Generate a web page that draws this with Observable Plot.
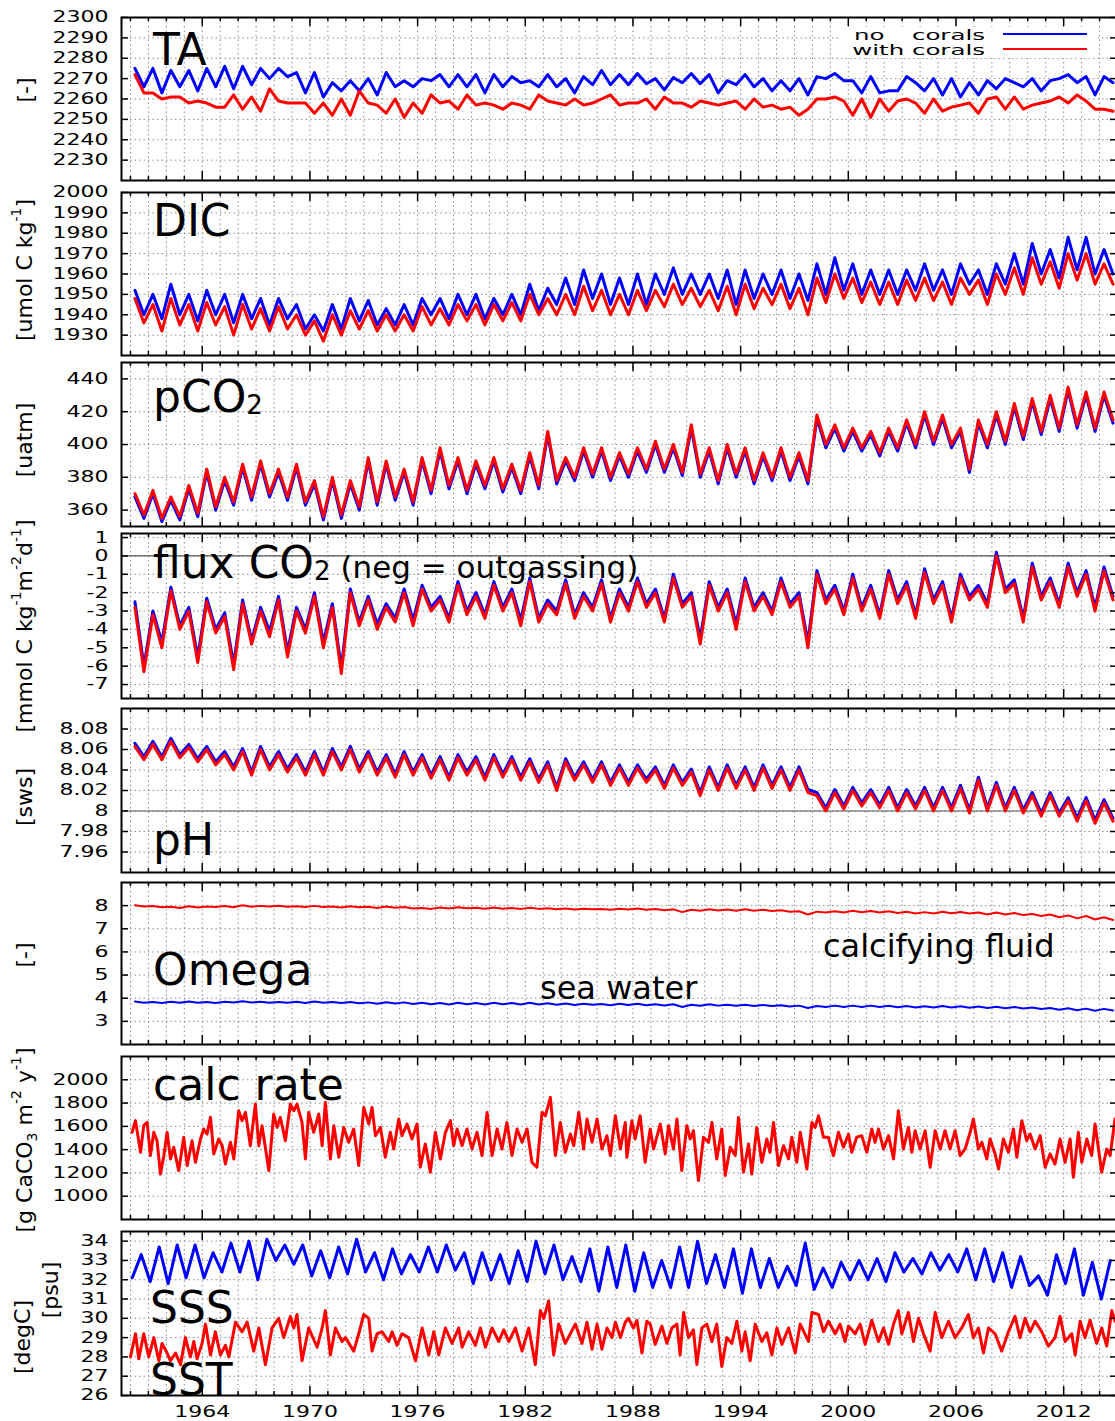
<!DOCTYPE html>
<html><head><meta charset="utf-8">
<script src="https://cdn.jsdelivr.net/npm/d3@7"></script>
<script src="https://cdn.jsdelivr.net/npm/@observablehq/plot@0.6"></script>
<style>
html,body{margin:0;padding:0;background:#fff;overflow:hidden;}
#chart{position:relative;width:1115px;height:1421px;overflow:hidden;background:#fff;font-family:"DejaVu Sans",sans-serif;}
</style></head><body><div id="chart"></div>
<script>
// ---------- axis ticks / labels ----------
const gridYears = d3.range(1960, 2015);
const labelYears = [1964, 1970, 1976, 1982, 1988, 1994, 2000, 2006, 2012];
const taTicks = [2230, 2240, 2250, 2260, 2270, 2280, 2290, 2300];
const dicTicks = [1930, 1940, 1950, 1960, 1970, 1980, 1990, 2000];
const pco2Ticks = [360, 380, 400, 420, 440];
const fluxTicks = [1, 0, -1, -2, -3, -4, -5, -6, -7];
const phTicks = [7.96, 7.98, 8, 8.02, 8.04, 8.06, 8.08];
const omegaTicks = [3, 4, 5, 6, 7, 8];
const calcTicks = [1000, 1200, 1400, 1600, 1800, 2000];
const salTicks = [26, 27, 28, 29, 30, 31, 32, 33, 34];

// ---------- series values (half-yearly, from 1960.25) ----------
const taBlue = [2275,2266,2275,2263,2274,2266,2274,2264,2275,2266,2276,2265,2276,2267,2275,2270,2275,2271,2273,2263,
 2273,2261,2268,2264,2269,2264,2270,2262,2273,2266,2269,2266,2270,2269,2272,2266,2272,2266,2272,2263,
 2272,2266,2271,2268,2269,2266,2272,2266,2270,2263,2271,2267,2274,2267,2272,2267,2272.5,2267.5,2270,2264.5,
 2270.5,2268,2272.5,2267.5,2272,2263,2269,2267,2272,2266,2270,2264,2269,2264,2270,2262,2271,2270,2272.5,2269,
 2269,2263,2271,2263,2264,2264,2271,2268,2264,2270,2262,2270,2261,2268,2262,2269,2265,2270,2268,2266,
 2270,2264,2269,2270,2272,2268,2271,2262,2271,2268];
const taRed = [2272,2263,2263,2260,2261,2261,2258,2259,2258,2256,2256,2262,2255,2261,2254,2265,2259,2258,2258,2258,
 2253,2258,2252,2260,2252,2264,2258,2257,2253,2260,2251,2258,2253,2262,2258,2259,2255,2262,2257,2258,
 2257,2255,2258,2257,2255,2262,2259,2258,2257,2260,2257,2258,2260,2262,2257,2258,2258,2260,2255,2261,
 2258,2258,2256,2259,2258,2257,2258,2259,2255,2260,2256,2257,2255,2256,2252,2255,2260,2260,2261,2259,
 2252,2260,2251,2260,2254,2259,2260,2258,2253,2260,2254,2256,2257,2258,2253,2260,2261,2255,2261,2255,
 2257,2258,2259,2261,2258,2262,2259,2255,2255,2254];
const dicBlue = [1952,1940,1950,1938,1955,1940,1950,1937,1952,1940,1950,1936,1950,1938,1948,1935,1948,1938,1945,1933,
 1940,1932,1945,1933,1948,1937,1947,1935,1943,1935,1945,1935,1948,1940,1948,1938,1950,1940,1950,1938,
 1948,1940,1950,1940,1955,1942,1953,1945,1958,1945,1962,1948,1960,1945,1958,1945,1960,1945,1960,1950,
 1963,1950,1960,1950,1960,1948,1962,1945,1962,1948,1960,1950,1962,1948,1960,1947,1965,1950,1968,1952,
 1965,1950,1962,1950,1962,1950,1962,1952,1965,1952,1962,1950,1965,1955,1962,1950,1965,1955,1970,1955,
 1975,1960,1972,1958,1978,1962,1978,1960,1972,1960];
const dicRed = [1948,1936,1945,1932,1948,1935,1945,1932,1946,1935,1944,1930,1945,1933,1943,1932,1944,1933,1940,1930,
 1937,1927,1940,1930,1942,1933,1942,1932,1940,1932,1940,1932,1944,1935,1943,1935,1945,1937,1945,1935,
 1945,1937,1946,1937,1950,1940,1948,1940,1950,1940,1954,1942,1952,1940,1950,1940,1952,1942,1952,1944,
 1955,1945,1953,1944,1952,1942,1954,1940,1955,1943,1953,1945,1955,1943,1953,1940,1958,1946,1960,1948,
 1958,1946,1956,1945,1956,1945,1957,1947,1958,1947,1956,1945,1958,1950,1957,1945,1960,1950,1963,1950,
 1968,1955,1966,1953,1970,1957,1970,1955,1965,1955];
const pco2Blue = [368,355,370,353,366,354,373,356,383,360,378,363,386,366,388,368,383,366,386,363,
 376,354,378,355,376,360,390,363,388,366,383,363,390,370,396,373,390,370,388,373,
 390,371,386,370,393,373,406,376,390,378,396,380,396,378,393,380,396,383,400,383,
 398,381,410,380,396,376,398,380,396,376,393,378,396,378,393,376,416,398,410,396,
 408,396,406,393,408,396,413,398,418,400,416,398,408,383,413,398,418,400,423,403,
 426,406,428,408,433,410,430,408,430,413];
const pco2Red = [370,357,372,355,368,356,375,358,385,362,380,365,388,368,390,370,385,368,388,365,
 378,356,380,357,378,362,392,365,390,368,385,365,392,372,398,375,392,372,390,375,
 392,373,388,372,395,375,408,378,392,380,398,382,398,380,395,382,398,385,402,385,
 400,383,412,382,398,378,400,382,398,378,395,380,398,380,395,378,418,400,412,398,
 410,398,408,395,410,398,415,400,420,402,418,400,410,385,415,400,420,402,425,405,
 428,408,430,410,435,412,432,410,432,415];
const fluxBlue = [-2.5,-6.0,-3.0,-4.7,-1.7,-3.8,-2.8,-5.5,-2.3,-4.0,-3.1,-5.9,-2.4,-4.6,-2.8,-4.1,-2.2,-5.2,-2.8,-4.0,
 -2.0,-4.7,-2.6,-6.1,-1.8,-3.6,-2.2,-3.7,-2.6,-3.4,-1.8,-3.5,-1.6,-2.8,-2.2,-3.4,-1.4,-3.0,-2.0,-3.2,
 -1.4,-2.8,-1.8,-3.5,-1.2,-3.4,-2.4,-3.0,-1.3,-3.2,-2.0,-2.8,-1.3,-3.4,-1.8,-2.8,-1.2,-2.6,-1.8,-3.4,
 -1.0,-2.6,-2.0,-4.5,-1.4,-2.8,-1.8,-3.7,-1.2,-2.8,-2.0,-3.0,-1.2,-2.6,-2.0,-4.7,-0.8,-2.4,-1.6,-3.0,
 -1.0,-2.8,-1.6,-3.2,-0.8,-2.4,-1.4,-3.2,-0.7,-2.4,-1.4,-3.4,-1.0,-2.2,-1.6,-2.6,0.2,-1.8,-1.3,-3.4,
 -0.4,-2.2,-1.2,-2.6,-0.4,-2.0,-0.8,-2.8,-0.6,-2.2];
const fluxRed = [-2.8,-6.3,-3.2,-5.0,-1.9,-4.0,-3.0,-5.8,-2.5,-4.2,-3.3,-6.2,-2.6,-4.8,-3.0,-4.4,-2.4,-5.5,-3.0,-4.2,
 -2.2,-5.0,-2.8,-6.4,-2.0,-3.8,-2.4,-4.0,-2.8,-3.6,-2.0,-3.8,-1.8,-3.0,-2.4,-3.6,-1.6,-3.2,-2.2,-3.4,
 -1.6,-3.0,-2.0,-3.8,-1.4,-3.6,-2.6,-3.2,-1.5,-3.4,-2.2,-3.0,-1.5,-3.6,-2.0,-3.0,-1.4,-2.8,-2.0,-3.6,
 -1.2,-2.8,-2.2,-4.8,-1.6,-3.0,-2.0,-4.0,-1.4,-3.0,-2.2,-3.2,-1.4,-2.8,-2.2,-5.0,-1.0,-2.6,-1.8,-3.2,
 -1.2,-3.0,-1.8,-3.4,-1.0,-2.6,-1.6,-3.4,-0.9,-2.6,-1.6,-3.6,-1.2,-2.4,-1.8,-2.8,0.0,-2.0,-1.5,-3.6,
 -0.6,-2.4,-1.4,-2.8,-0.6,-2.2,-1.0,-3.0,-0.8,-2.4];
const phBlue = [8.066,8.053,8.068,8.053,8.071,8.055,8.065,8.051,8.063,8.048,8.058,8.043,8.061,8.038,8.063,8.043,8.058,8.041,8.055,8.038,
 8.058,8.038,8.061,8.043,8.063,8.041,8.058,8.038,8.055,8.036,8.058,8.038,8.055,8.035,8.053,8.033,8.055,8.038,8.053,8.033,
 8.055,8.036,8.053,8.033,8.051,8.031,8.048,8.023,8.051,8.033,8.048,8.031,8.048,8.028,8.045,8.028,8.045,8.031,8.043,8.025,
 8.045,8.028,8.041,8.018,8.043,8.023,8.045,8.025,8.043,8.023,8.045,8.025,8.043,8.023,8.043,8.021,8.018,8.003,8.021,8.005,
 8.023,8.008,8.021,8.006,8.023,8.003,8.021,8.005,8.023,8.003,8.023,8.003,8.025,8.001,8.033,8.003,8.028,8.003,8.023,8.001,
 8.018,7.998,8.018,7.998,8.013,7.993,8.013,7.991,8.011,7.993];
const phRed = [8.063,8.05,8.065,8.05,8.068,8.052,8.062,8.048,8.06,8.045,8.055,8.04,8.058,8.035,8.06,8.04,8.055,8.038,8.052,8.035,
 8.055,8.035,8.058,8.04,8.06,8.038,8.055,8.035,8.052,8.033,8.055,8.035,8.052,8.032,8.05,8.03,8.052,8.035,8.05,8.03,
 8.052,8.033,8.05,8.03,8.048,8.028,8.045,8.02,8.048,8.03,8.045,8.028,8.045,8.025,8.042,8.025,8.042,8.028,8.04,8.022,
 8.042,8.025,8.038,8.015,8.04,8.02,8.042,8.022,8.04,8.02,8.042,8.022,8.04,8.02,8.04,8.018,8.015,8,8.018,8.002,
 8.02,8.005,8.018,8.003,8.02,8,8.018,8.002,8.02,8,8.02,8,8.022,7.998,8.03,8,8.025,8,8.02,7.998,
 8.015,7.995,8.015,7.995,8.01,7.99,8.01,7.988,8.008,7.99];
const omegaFluid = [8.02,7.96,7.98,7.93,7.95,7.90,7.97,7.92,7.96,7.94,7.98,7.93,8.02,7.95,7.99,7.96,8.00,7.95,7.97,7.94,
 7.99,7.94,7.96,7.92,7.97,7.93,7.95,7.90,7.96,7.91,7.94,7.88,7.90,7.86,7.92,7.88,7.93,7.89,7.91,7.87,
 7.92,7.87,7.90,7.86,7.91,7.86,7.89,7.84,7.88,7.83,7.87,7.84,7.86,7.82,7.87,7.83,7.88,7.82,7.85,7.80,
 7.84,7.72,7.82,7.78,7.84,7.79,7.83,7.78,7.84,7.78,7.82,7.77,7.80,7.74,7.76,7.62,7.74,7.70,7.76,7.70,
 7.78,7.71,7.77,7.70,7.76,7.68,7.74,7.66,7.72,7.66,7.74,7.67,7.73,7.66,7.70,7.62,7.70,7.62,7.68,7.60,
 7.64,7.55,7.62,7.50,7.58,7.45,7.55,7.40,7.50,7.38];
const omegaSea = [3.86,3.80,3.84,3.79,3.85,3.80,3.86,3.80,3.84,3.79,3.85,3.81,3.87,3.81,3.85,3.80,3.84,3.80,3.85,3.79,
 3.86,3.80,3.84,3.79,3.84,3.78,3.82,3.76,3.83,3.77,3.82,3.75,3.80,3.74,3.79,3.73,3.80,3.74,3.79,3.73,
 3.80,3.74,3.79,3.73,3.80,3.73,3.78,3.72,3.77,3.71,3.76,3.72,3.75,3.70,3.76,3.71,3.76,3.70,3.74,3.69,
 3.74,3.62,3.72,3.67,3.74,3.68,3.72,3.67,3.72,3.66,3.71,3.66,3.70,3.64,3.68,3.58,3.66,3.62,3.68,3.62,
 3.68,3.62,3.68,3.62,3.67,3.61,3.66,3.60,3.65,3.60,3.66,3.60,3.65,3.59,3.64,3.58,3.63,3.57,3.62,3.56,
 3.60,3.53,3.58,3.50,3.57,3.48,3.55,3.46,3.54,3.47];
// SSS half-yearly from 1960.1
const sss = [32.1,33.3,31.9,33.7,31.8,33.8,32.1,33.8,32.1,33.4,32.4,33.9,32.4,34.0,32.0,34.1,33.0,33.8,32.8,33.8,
 32.2,33.5,32.1,33.7,32.3,34.1,32.4,33.4,32.0,33.6,32.3,33.3,32.4,33.7,32.4,33.8,32.5,33.4,31.8,33.4,
 32.0,33.3,31.8,33.5,31.9,34.0,32.3,33.8,32.0,33.2,31.9,33.6,31.4,33.7,31.6,33.8,31.4,33.4,31.6,33.0,
 31.6,33.7,31.6,34.0,31.8,33.3,31.6,33.6,31.3,33.6,31.6,33.1,31.6,32.7,31.7,33.9,31.5,32.6,31.6,32.9,
 32.0,33.0,32.0,33.1,31.9,33.4,32.4,33.1,32.3,33.4,32.5,33.3,32.4,33.6,32.0,33.6,31.9,33.4,31.6,33.2,
 31.7,32.2,31.2,33.3,31.8,33.6,31.2,32.9,31.0,33.0];
// SST and calc rate: [decimal year, value]
const sst = [[1960.0,28.0],[1960.28,29.2],[1960.46,27.9],[1960.74,29.2],[1961.02,28.0],[1961.3,29.0],[1961.58,27.8],[1961.76,28.7],[1962.04,28.2],[1962.23,27.8],
 [1962.51,28.2],[1962.79,27.6],[1963.06,29.0],[1963.34,28.0],[1963.53,28.8],[1963.71,27.9],[1963.99,28.7],[1964.18,29.7],[1964.46,28.1],[1964.73,29.3],
 [1965.01,28.1],[1965.29,28.6],[1965.48,28.0],[1965.85,29.8],[1966.22,29.3],[1966.5,29.8],[1966.87,28.3],[1967.15,29.5],[1967.52,27.6],[1967.89,29.5],
 [1968.26,30.0],[1968.54,29.0],[1968.91,30.1],[1969.1,29.5],[1969.28,30.2],[1969.56,27.8],[1969.93,29.5],[1970.4,28.5],[1970.68,29.5],[1970.86,30.4],
 [1971.14,28.1],[1971.42,29.5],[1971.79,28.8],[1971.98,29.0],[1972.44,28.3],[1972.72,29.2],[1973.0,30.2],[1973.28,30.0],[1973.46,28.3],[1973.74,29.2],
 [1974.02,29.3],[1974.39,28.8],[1974.58,29.3],[1974.85,28.6],[1975.13,29.2],[1975.5,29.0],[1975.88,27.8],[1976.25,29.5],[1976.62,28.1],[1976.9,29.3],
 [1977.18,28.1],[1977.55,29.5],[1977.92,28.7],[1978.29,29.5],[1978.48,28.5],[1978.85,29.3],[1979.22,28.6],[1979.5,29.5],[1979.78,28.5],[1980.15,29.5],
 [1980.52,28.8],[1980.8,29.4],[1981.08,28.8],[1981.45,29.5],[1981.82,28.3],[1982.19,29.5],[1982.56,27.6],[1982.84,30.4],[1983.03,30.0],[1983.3,30.9],
 [1983.58,28.1],[1983.86,29.7],[1984.23,28.7],[1984.51,29.2],[1984.79,29.7],[1985.16,28.7],[1985.44,29.8],[1985.72,28.4],[1986.0,29.7],[1986.27,28.4],
 [1986.55,29.5],[1986.83,29.0],[1987.02,29.8],[1987.3,29.0],[1987.57,29.8],[1987.75,30.0],[1988.03,29.5],[1988.22,29.9],[1988.5,28.2],[1988.77,29.85],
 [1988.96,29.7],[1989.24,28.65],[1989.61,29.6],[1989.89,28.7],[1990.17,29.5],[1990.45,29.7],[1990.63,28.1],[1990.82,30.3],[1991.1,29.0],[1991.37,29.4],
 [1991.56,27.6],[1991.84,29.5],[1992.12,29.7],[1992.4,28.8],[1992.67,29.7],[1992.95,27.5],[1993.23,29.0],[1993.51,28.7],[1993.79,29.85],[1994.07,28.3],
 [1994.25,29.3],[1994.53,27.8],[1994.81,29.7],[1995.18,28.8],[1995.46,29.25],[1995.74,28.1],[1996.02,29.5],[1996.3,28.65],[1996.67,29.5],[1997.04,28.2],
 [1997.32,29.7],[1997.78,28.8],[1997.97,30.3],[1998.34,30.2],[1998.62,29.3],[1998.89,29.85],[1999.27,29.2],[1999.54,29.7],[1999.82,28.8],[2000.01,29.6],
 [2000.38,29.2],[2000.66,29.7],[2000.94,28.65],[2001.31,29.9],[2001.68,28.8],[2001.96,29.5],[2002.24,28.65],[2002.52,29.7],[2002.79,30.4],[2002.98,29.2],
 [2003.35,30.3],[2003.63,28.8],[2003.91,30.0],[2004.19,29.2],[2004.56,28.3],[2004.84,30.3],[2005.21,29.0],[2005.58,29.85],[2005.95,29.0],[2006.32,29.5],
 [2006.69,30.2],[2006.97,29.0],[2007.25,29.5],[2007.53,28.2],[2007.81,29.5],[2008.18,29.2],[2008.55,28.3],[2008.92,29.3],[2009.29,30.1],[2009.57,29.0],
 [2009.85,30.0],[2010.13,29.3],[2010.41,29.85],[2010.78,29.3],[2011.15,28.56],[2011.52,29.0],[2011.8,30.1],[2012.08,28.8],[2012.45,29.2],[2012.64,28.1],
 [2012.92,29.85],[2013.19,29.0],[2013.47,29.9],[2013.84,28.7],[2014.12,29.5],[2014.4,28.56],[2014.68,30.4],[2014.86,29.85]];
const calc = [[1960.09,1549],[1960.28,1649],[1960.56,1377],[1960.74,1606],[1960.93,1634],[1961.11,1349],[1961.3,1549],[1961.48,1477],[1961.67,1191],[1961.86,1349],
 [1962.04,1549],[1962.23,1320],[1962.41,1420],[1962.69,1220],[1962.97,1506],[1963.16,1263],[1963.43,1477],[1963.62,1291],[1963.9,1491],[1964.08,1577],
 [1964.27,1534],[1964.46,1677],[1964.64,1363],[1964.92,1491],[1965.11,1434],[1965.29,1277],[1965.57,1463],[1965.76,1320],[1966.03,1734],[1966.22,1649],
 [1966.41,1720],[1966.68,1434],[1966.96,1791],[1967.15,1434],[1967.33,1606],[1967.71,1220],[1967.98,1706],[1968.17,1591],[1968.35,1677],[1968.63,1477],
 [1968.91,1791],[1969.1,1734],[1969.28,1791],[1969.56,1634],[1969.75,1320],[1969.93,1720],[1970.21,1549],[1970.49,1706],[1970.68,1434],[1970.86,1806],
 [1971.14,1320],[1971.33,1606],[1971.61,1334],[1971.88,1591],[1972.16,1463],[1972.44,1577],[1972.72,1263],[1973.0,1763],[1973.28,1620],[1973.46,1763],
 [1973.65,1520],[1973.93,1591],[1974.2,1334],[1974.48,1549],[1974.67,1406],[1974.95,1663],[1975.13,1520],[1975.41,1620],[1975.69,1491],[1975.97,1620],
 [1976.15,1249],[1976.43,1449],[1976.71,1206],[1976.99,1549],[1977.27,1320],[1977.55,1549],[1977.83,1649],[1978.01,1434],[1978.2,1577],[1978.48,1434],
 [1978.75,1577],[1979.03,1406],[1979.31,1549],[1979.59,1349],[1979.87,1720],[1980.15,1349],[1980.43,1577],[1980.7,1406],[1980.98,1634],[1981.26,1349],
 [1981.54,1577],[1981.82,1463],[1982.1,1577],[1982.37,1291],[1982.65,1249],[1982.93,1720],[1983.12,1691],[1983.4,1849],[1983.68,1349],[1983.95,1634],
 [1984.23,1377],[1984.51,1534],[1984.7,1434],[1984.98,1720],[1985.25,1406],[1985.44,1663],[1985.72,1463],[1986.0,1663],[1986.27,1406],[1986.55,1520],
 [1986.74,1349],[1987.02,1691],[1987.3,1406],[1987.57,1634],[1987.66,1334],[1987.94,1649],[1988.12,1491],[1988.4,1691],[1988.68,1291],[1988.96,1577],
 [1989.15,1406],[1989.52,1620],[1989.8,1363],[1989.98,1606],[1990.26,1406],[1990.45,1663],[1990.72,1220],[1991.0,1606],[1991.19,1491],[1991.37,1563],
 [1991.65,1134],[1991.93,1506],[1992.21,1463],[1992.4,1634],[1992.67,1320],[1992.95,1577],[1993.14,1177],[1993.42,1420],[1993.7,1349],[1993.88,1677],
 [1994.16,1206],[1994.44,1449],[1994.62,1191],[1994.9,1591],[1995.18,1291],[1995.46,1491],[1995.64,1377],[1995.83,1634],[1996.11,1263],[1996.39,1434],
 [1996.67,1320],[1996.85,1506],[1997.13,1291],[1997.32,1549],[1997.69,1234],[1997.97,1634],[1998.15,1591],[1998.34,1691],[1998.62,1506],[1998.89,1506],
 [1999.17,1349],[1999.45,1549],[1999.73,1420],[2000.01,1534],[2000.19,1377],[2000.47,1506],[2000.75,1520],[2001.03,1377],[2001.31,1577],[2001.49,1463],
 [2001.68,1577],[2001.96,1406],[2002.24,1520],[2002.52,1320],[2002.79,1734],[2003.07,1406],[2003.35,1591],[2003.54,1377],[2003.72,1563],[2004.0,1406],
 [2004.28,1563],[2004.56,1249],[2004.84,1563],[2005.12,1406],[2005.39,1563],[2005.67,1406],[2005.95,1563],[2006.23,1349],[2006.51,1406],[2006.79,1549],
 [2006.97,1663],[2007.25,1406],[2007.44,1463],[2007.72,1320],[2007.9,1491],[2008.18,1363],[2008.37,1234],[2008.64,1491],[2008.92,1377],[2009.2,1577],
 [2009.39,1334],[2009.67,1649],[2009.94,1477],[2010.13,1534],[2010.41,1406],[2010.69,1520],[2010.97,1249],[2011.24,1363],[2011.52,1277],[2011.8,1491],
 [2012.08,1291],[2012.36,1491],[2012.54,1163],[2012.82,1549],[2013.01,1291],[2013.29,1491],[2013.56,1349],[2013.75,1620],[2014.12,1206],[2014.4,1406],
 [2014.59,1349],[2014.86,1663]];

// ---------- helpers ----------
const BLUE = "#0000ff", RED = "#ff0000";
const X0 = 1959.5, X1 = 2015;
const FRAME_L = 121, FRAME_R = 1117;
const reg = (start, step, vals) => vals.map((v, i) => ({t: start + i * step, v}));
const pr = arr => arr.map(([t, v]) => ({t, v}));

const panels = [
  {top: 17, bottom: 180, domain: [2220, 2300], ticks: taTicks,
   lines: [[reg(1960.25, 0.5, taBlue), BLUE, 3], [reg(1960.25, 0.5, taRed), RED, 3]]},
  {top: 192, bottom: 355, domain: [1920, 2000], ticks: dicTicks,
   lines: [[reg(1960.25, 0.5, dicBlue), BLUE, 3], [reg(1960.25, 0.5, dicRed), RED, 3]]},
  {top: 362, bottom: 526, domain: [350, 450], ticks: pco2Ticks,
   lines: [[reg(1960.25, 0.5, pco2Blue), BLUE, 3], [reg(1960.25, 0.5, pco2Red), RED, 3]]},
  {top: 533, bottom: 698, domain: [-7.76, 1.22], ticks: fluxTicks, solid: [0],
   lines: [[reg(1960.25, 0.5, fluxBlue), BLUE, 3], [reg(1960.25, 0.5, fluxRed), RED, 3]]},
  {top: 708, bottom: 872, domain: [7.94, 8.10], ticks: phTicks, solid: [8],
   lines: [[reg(1960.25, 0.5, phBlue), BLUE, 3], [reg(1960.25, 0.5, phRed), RED, 3]]},
  {top: 882, bottom: 1044, domain: [2, 9], ticks: omegaTicks,
   lines: [[reg(1960.25, 0.5, omegaSea), BLUE, 2], [reg(1960.25, 0.5, omegaFluid), RED, 2]]},
  {top: 1056, bottom: 1219, domain: [800, 2200], ticks: calcTicks,
   lines: [[pr(calc), RED, 3]]},
  {top: 1231, bottom: 1395, domain: [26, 34.5], ticks: salTicks, xlabels: true,
   lines: [[reg(1960.1, 0.5, sss), BLUE, 3], [pr(sst), RED, 3]]}
];

const chart = document.getElementById("chart");
const pxPerYear = (FRAME_R - FRAME_L) / (X1 - X0);
const majorSet = new Set(labelYears);
const GRID = {stroke: "#8c8c8c", strokeWidth: 1, strokeDasharray: "1.5,3"};
const TICK = {stroke: "#000", strokeWidth: 1.5};

panels.forEach(p => {
  const mt = 12, mb = p.xlabels ? 28 : 6;
  const h = p.bottom - p.top;
  const [lo, hi] = p.domain;
  const uy = (hi - lo) / h;
  const ux = 1 / pxPerYear;
  const tl = d => majorSet.has(d) ? 9 : 4;
  const marks = [
    Plot.ruleX(gridYears, {x: d => d, ...GRID}),
    Plot.ruleY(p.ticks, {y: d => d, ...GRID})
  ];
  if (p.solid) marks.push(Plot.ruleY(p.solid, {y: d => d, stroke: "#555", strokeWidth: 1.2}));
  p.lines.forEach(([data, color, w]) => marks.push(
    Plot.line(data, {x: "t", y: "v", stroke: color, strokeWidth: w, strokeLinejoin: "round"})));
  marks.push(
    Plot.ruleY(p.ticks, {y: d => d, x1: () => X0, x2: () => X0 + 7 * ux, ...TICK}),
    Plot.ruleY(p.ticks, {y: d => d, x1: () => X1 - 7 * ux, x2: () => X1, ...TICK}),
    Plot.ruleX(gridYears, {x: d => d, y1: () => lo, y2: d => lo + tl(d) * uy, ...TICK}),
    Plot.ruleX(gridYears, {x: d => d, y1: () => hi, y2: d => hi - tl(d) * uy, ...TICK}),
    Plot.frame({stroke: "#000", strokeWidth: 2}),
    Plot.text(p.ticks, {x: () => X0, y: d => d, text: d => String(d), textAnchor: "end", dx: -13,
      fontSize: 15.5, fill: "#000"})
  );
  if (p.xlabels) marks.push(Plot.text(labelYears, {x: d => d, y: () => lo, text: d => String(d),
      dy: 16.5, fontSize: 15.5, fill: "#000"}));
  const svg = Plot.plot({
    width: FRAME_R + 1, height: h + mt + mb,
    marginLeft: FRAME_L, marginRight: 1, marginTop: mt, marginBottom: mb,
    x: {domain: [X0, X1], axis: null},
    y: {domain: p.domain, axis: null},
    style: {background: "transparent", overflow: "visible", maxWidth: "none", fontFamily: "DejaVu Sans"},
    marks
  });
  const wrap = document.createElement("div");
  wrap.style.cssText = `position:absolute;left:0;top:${p.top - mt}px;`;
  wrap.appendChild(svg);
  chart.appendChild(wrap);
  // widen the tick labels horizontally (the reference's digits are stretched)
  svg.querySelectorAll("text").forEach(el => {
    const a = el.closest("[text-anchor]");
    const anchor = a ? a.getAttribute("text-anchor") : "middle";
    const b = el.getBBox();
    const ax = anchor === "end" ? b.x + b.width : anchor === "start" ? b.x : b.x + b.width / 2;
    const tr = el.getAttribute("transform") || "";
    el.setAttribute("transform", `${tr} translate(${ax},0) scale(1.42,1) translate(${-ax},0)`);
  });
});

// ---------- annotations overlay ----------
const ov = d3.select(chart).append("svg")
  .attr("width", 1115).attr("height", 1421)
  .style("position", "absolute").style("left", "0").style("top", "0")
  .attr("font-family", "DejaVu Sans").attr("fill", "#000");

// legend
ov.append("rect").attr("x", 840).attr("y", 27).attr("width", 258).attr("height", 31).attr("fill", "#fff");
const leg = (txt, x, y, anchor) => ov.append("text").attr("transform", `translate(${x},${y}) scale(1.75,1)`)
  .attr("text-anchor", anchor).attr("font-size", 14).text(txt);
leg("no", 854, 40, "start"); leg("corals", 985, 40, "end"); leg("with corals", 985, 55, "end");
ov.append("line").attr("x1", 1003).attr("x2", 1087).attr("y1", 34).attr("y2", 34).attr("stroke", BLUE).attr("stroke-width", 2);
ov.append("line").attr("x1", 1003).attr("x2", 1087).attr("y1", 49).attr("y2", 49).attr("stroke", RED).attr("stroke-width", 2);

// panel titles
function title(x, y, parts, size) {
  const t = ov.append("text").attr("x", x).attr("y", y).attr("font-size", size);
  parts.forEach(([s, fs, dy]) => {
    const ts = t.append("tspan").text(s);
    if (fs) ts.attr("font-size", fs);
    if (dy) ts.attr("dy", dy);
  });
  return t;
}
title(153, 65, [["TA"]], 44);
title(153, 236, [["DIC"]], 44);
title(153, 412, [["pCO"], ["2", 26, 2]], 44);
title(153, 578, [["flux CO"], ["2", 26, 2], [" (neg = outgassing)", 31, -2]], 44);
title(153, 855, [["pH"]], 44);
title(153, 985, [["Omega"]], 44);
title(823, 957, [["calcifying fluid"]], 32);
title(540, 999, [["sea water"]], 32);
title(153, 1100, [["calc rate"]], 44);
title(150, 1323, [["SSS"]], 44);
title(150, 1395, [["SST"]], 44);

// rotated unit labels
function unit(cx, cy, parts) {
  const t = ov.append("text").attr("transform", `translate(${cx},${cy}) rotate(-90)`)
    .attr("text-anchor", "middle").attr("dominant-baseline", "central").attr("font-size", 22);
  parts.forEach(([s, kind]) => {
    const ts = t.append("tspan").text(s);
    if (kind === "sup") ts.attr("font-size", 14).attr("baseline-shift", "super");
    if (kind === "sub") ts.attr("font-size", 14).attr("baseline-shift", "sub");
  });
}
unit(25, 90, [["[-]"]]);
unit(24, 270, [["[umol C kg"], ["-1", "sup"], ["]"]]);
unit(24, 440, [["[uatm]"]]);
unit(24, 626, [["[mmol C kg"], ["-1", "sup"], ["m"], ["-2", "sup"], ["d"], ["-1", "sup"], ["]"]]);
unit(24, 797, [["[sws]"]]);
unit(24, 955, [["[-]"]]);
unit(24, 1140, [["[g CaCO"], ["3", "sub"], [" m"], ["-2", "sup"], [" y"], ["-1", "sup"], ["]"]]);
unit(22, 1337, [["[degC]"]]);
unit(50, 1290, [["[psu]"]]);
</script></body></html>
